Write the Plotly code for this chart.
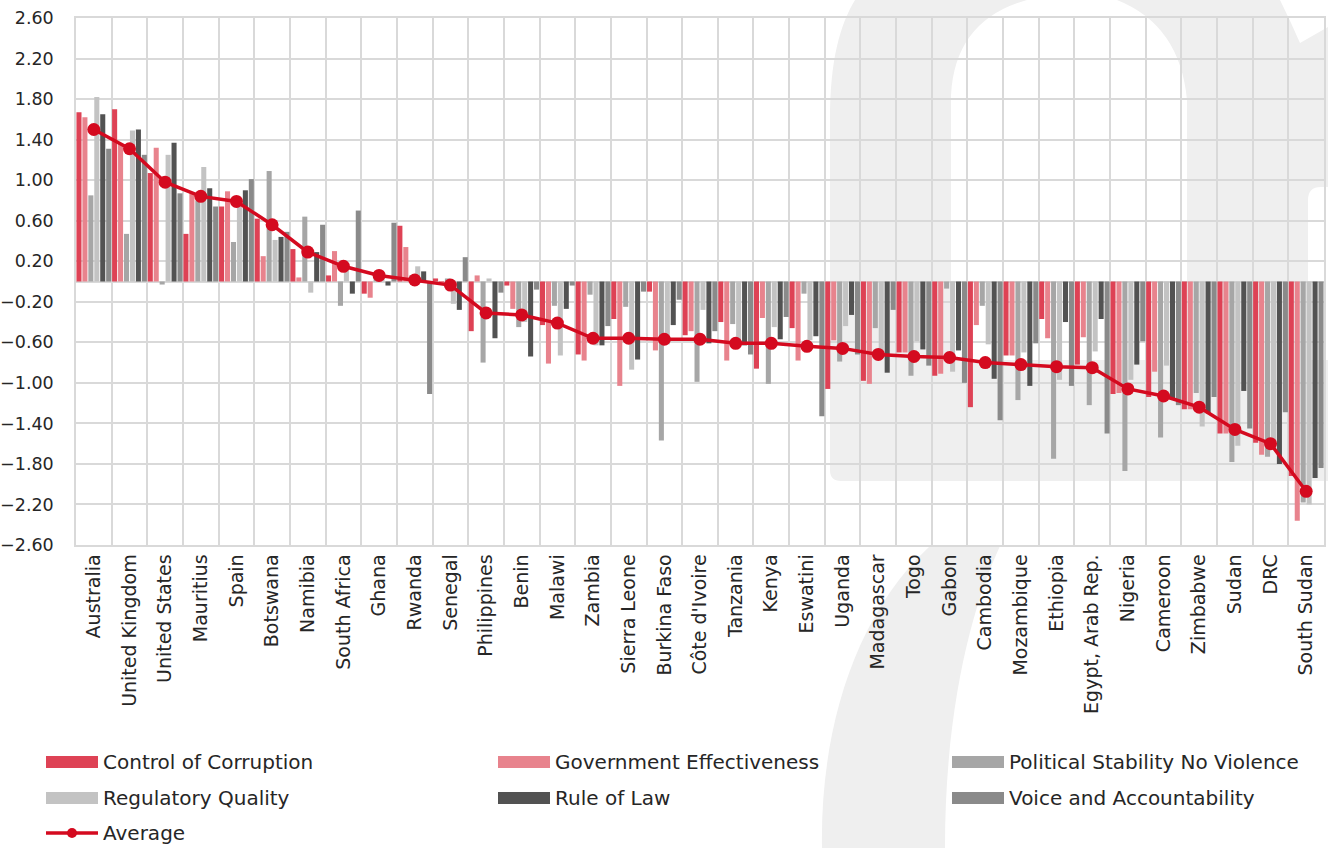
import re
import plotly.graph_objects as go

countries = ["Australia", "United Kingdom", "United States", "Mauritius", "Spain", "Botswana",
             "Namibia", "South Africa", "Ghana", "Rwanda", "Senegal", "Philippines", "Benin",
             "Malawi", "Zambia", "Sierra Leone", "Burkina Faso", "Côte d'Ivoire", "Tanzania",
             "Kenya", "Eswatini", "Uganda", "Madagascar", "Togo", "Gabon", "Cambodia",
             "Mozambique", "Ethiopia", "Egypt, Arab Rep.", "Nigeria", "Cameroon", "Zimbabwe",
             "Sudan", "DRC", "South Sudan"]

control_corruption = [1.67, 1.70, 1.07, 0.47, 0.74, 0.62, 0.32, 0.06, -0.12, 0.55, 0.03, -0.49,
                      -0.04, -0.43, -0.72, -0.37, -0.10, -0.53, -0.40, -0.86, -0.46, -1.06, -0.98,
                      -0.70, -0.93, -1.24, -0.73, -0.37, -0.82, -1.11, -1.14, -1.26, -1.50, -1.59, -1.92]
gov_effectiveness = [1.62, 1.36, 1.32, 0.87, 0.89, 0.25, 0.04, 0.30, -0.16, 0.34, -0.01, 0.06,
                     -0.27, -0.81, -0.78, -1.03, -0.68, -0.49, -0.78, -0.36, -0.78, -0.58, -1.01,
                     -0.70, -0.91, -0.43, -0.73, -0.56, -0.55, -1.10, -0.89, -1.26, -1.50, -1.71, -2.36]
political_stability = [0.85, 0.47, -0.03, 0.80, 0.39, 1.09, 0.64, -0.24, 0.05, 0.06, 0.03, -0.80,
                       -0.45, -0.24, -0.13, -0.25, -1.57, -0.99, -0.42, -1.01, -0.12, -0.79, -0.46,
                       -0.93, -0.07, -0.24, -1.17, -1.75, -1.22, -1.87, -1.54, -1.10, -1.78, -1.73, -2.18]
regulatory_quality = [1.82, 1.49, 1.25, 1.13, 0.80, 0.41, -0.11, 0.15, 0.08, 0.15, -0.22, 0.03,
                      -0.40, -0.73, -0.63, -0.87, -0.62, -0.28, -0.63, -0.45, -0.58, -0.44, -0.70,
                      -0.59, -0.89, -0.62, -0.70, -0.97, -0.69, -0.97, -0.83, -1.43, -1.62, -1.66, -2.20]
rule_of_law = [1.65, 1.50, 1.37, 0.92, 0.90, 0.44, 0.29, -0.12, -0.04, 0.10, -0.28, -0.56,
               -0.74, -0.27, -0.63, -0.77, -0.43, -0.61, -0.63, -0.57, -0.54, -0.33, -0.90,
               -0.67, -0.68, -0.96, -1.03, -0.40, -0.37, -0.82, -1.15, -1.30, -1.08, -1.80, -1.94]
voice_accountability = [1.31, 1.25, 0.87, 0.74, 1.01, 0.49, 0.56, 0.70, 0.58, -1.11, 0.24, -0.11,
                        -0.08, -0.04, -0.44, -0.10, -0.18, -0.49, -0.72, -0.35, -1.33, -0.72, -0.28,
                        -0.83, -1.00, -1.37, -0.61, -1.03, -1.50, -0.59, -1.22, -1.14, -1.45, -1.29, -1.84]
average = [1.50, 1.31, 0.98, 0.84, 0.79, 0.56, 0.29, 0.15, 0.06, 0.015, -0.035, -0.31, -0.33,
           -0.41, -0.56, -0.56, -0.57, -0.57, -0.61, -0.61, -0.64, -0.66, -0.72, -0.74, -0.75,
           -0.80, -0.82, -0.84, -0.85, -1.06, -1.13, -1.24, -1.46, -1.60, -2.07]

series_names = ["Control of Corruption", "Government Effectiveness", "Political Stability No Violence",
                "Regulatory Quality", "Rule of Law", "Voice and Accountability"]
series_values = [control_corruption, gov_effectiveness, political_stability,
                 regulatory_quality, rule_of_law, voice_accountability]
series_colors = ["#DE4255", "#E8838D", "#A6A6A6", "#C3C3C3", "#525252", "#8A8A8A"]
avg_color = "#D40A1F"

W, H = 1328, 848
L, R, T, B = 76, 1324, 18, 545
FONT = "'DejaVu Sans', sans-serif"
TXT = "#262626"


def px(x):
    return (x - L) / (R - L)


def py(y):
    return (B - y) / (B - T)


def path_px(s):
    def rep(m):
        x, y = float(m.group(1)), float(m.group(2))
        return f"{px(x):.5f},{py(y):.5f}"
    return re.sub(r"(-?\d+(?:\.\d+)?),(-?\d+(?:\.\d+)?)", rep, s)


fig = go.Figure()
for name, vals, col in zip(series_names, series_values, series_colors):
    fig.add_trace(go.Bar(x=countries, y=vals, name=name, marker=dict(color=col, line=dict(width=0)),
                         showlegend=False))
fig.add_trace(go.Scatter(x=countries, y=average, name="Average", mode="lines+markers",
                         line=dict(color=avg_color, width=3.5),
                         marker=dict(color=avg_color, size=13), showlegend=False))

shapes = []
wm = "#EFEFEF"
# background watermark (logo)
shapes.append(dict(type="path", xref="paper", yref="paper", layer="below", fillcolor=wm,
                   line=dict(width=0),
                   path=path_px("M 830,470 Q 830,481 841,481 L 1328,481 L 1328,360 L 1308,360 "
                                "L 1308,200 Q 1308,187 1321,187 L 1328,187 L 1328,27 L 1300,43 "
                                "Q 1290,20 1280,0 L 1117,0 Q 1180,25 1187,100 L 1187,360 L 951,360 "
                                "L 951,95 Q 955,20 1027,0 L 855,0 C 840,25 830,60 830,120 Z")))
shapes.append(dict(type="path", xref="paper", yref="paper", layer="below", fillcolor=wm,
                   line=dict(width=0),
                   path=path_px("M 822,848 C 820,740 850,620 930,546 L 1000,546 "
                                "C 975,600 945,700 945,848 Z")))

# custom legend
annotations = []
legend_items = [(0, 0), (1, 0), (2, 0), (0, 1), (1, 1), (2, 1)]
col_x = [46, 498, 952]
row_y = [762, 798, 833]
LEG_SIZE = 20
for (ci, ri), name, col in zip(legend_items, series_names, series_colors):
    x0 = col_x[ci]
    yc = row_y[ri]
    shapes.append(dict(type="rect", xref="paper", yref="paper", x0=px(x0), x1=px(x0 + 52),
                       y0=py(yc - 6), y1=py(yc + 6), fillcolor=col, line=dict(width=0)))
    annotations.append(dict(xref="paper", yref="paper", x=px(x0 + 55), y=py(yc), text=name,
                            showarrow=False, xanchor="left", yanchor="middle",
                            font=dict(family=FONT, size=LEG_SIZE, color=TXT)))
# Average legend
yc = row_y[2]
shapes.append(dict(type="line", xref="paper", yref="paper", x0=px(46), x1=px(98), y0=py(yc), y1=py(yc),
                   line=dict(color=avg_color, width=3.5)))
shapes.append(dict(type="circle", xref="paper", yref="paper", x0=px(67), x1=px(77),
                   y0=py(yc + 5), y1=py(yc - 5), fillcolor=avg_color, line=dict(width=0)))
annotations.append(dict(xref="paper", yref="paper", x=px(101), y=py(yc), text="Average",
                        showarrow=False, xanchor="left", yanchor="middle",
                        font=dict(family=FONT, size=LEG_SIZE, color=TXT)))

grid = "#D9D9D9"
fig.update_layout(
    width=W, height=H, autosize=False,
    margin=dict(l=L, r=W - R, t=T, b=H - B, pad=0),
    paper_bgcolor="white", plot_bgcolor="rgba(0,0,0,0)",
    barmode="group", bargap=0.0, bargroupgap=0.15,
    showlegend=False,
    shapes=shapes, annotations=annotations,
    font=dict(family=FONT, size=19, color=TXT),
    xaxis=dict(type="category", tickson="boundaries", showgrid=True, gridcolor=grid, gridwidth=1.5,
               tickangle=-90, ticks="", showline=True, linecolor=grid, linewidth=1.5, mirror=True,
               range=[-0.5, len(countries) - 0.5], automargin=False,
               tickfont=dict(family=FONT, size=19, color=TXT)),
    yaxis=dict(range=[-2.6, 2.6], tick0=-2.6, dtick=0.4, tickformat=".2f", showgrid=True,
               gridcolor=grid, gridwidth=1.5, zeroline=True, zerolinecolor=grid, zerolinewidth=1.5,
               showline=True, linecolor=grid, linewidth=1.5, mirror=True, ticks="",
               automargin=False, ticklabelstandoff=17,
               tickfont=dict(family=FONT, size=17.5, color=TXT)),
)

fig.write_html("out.html")
